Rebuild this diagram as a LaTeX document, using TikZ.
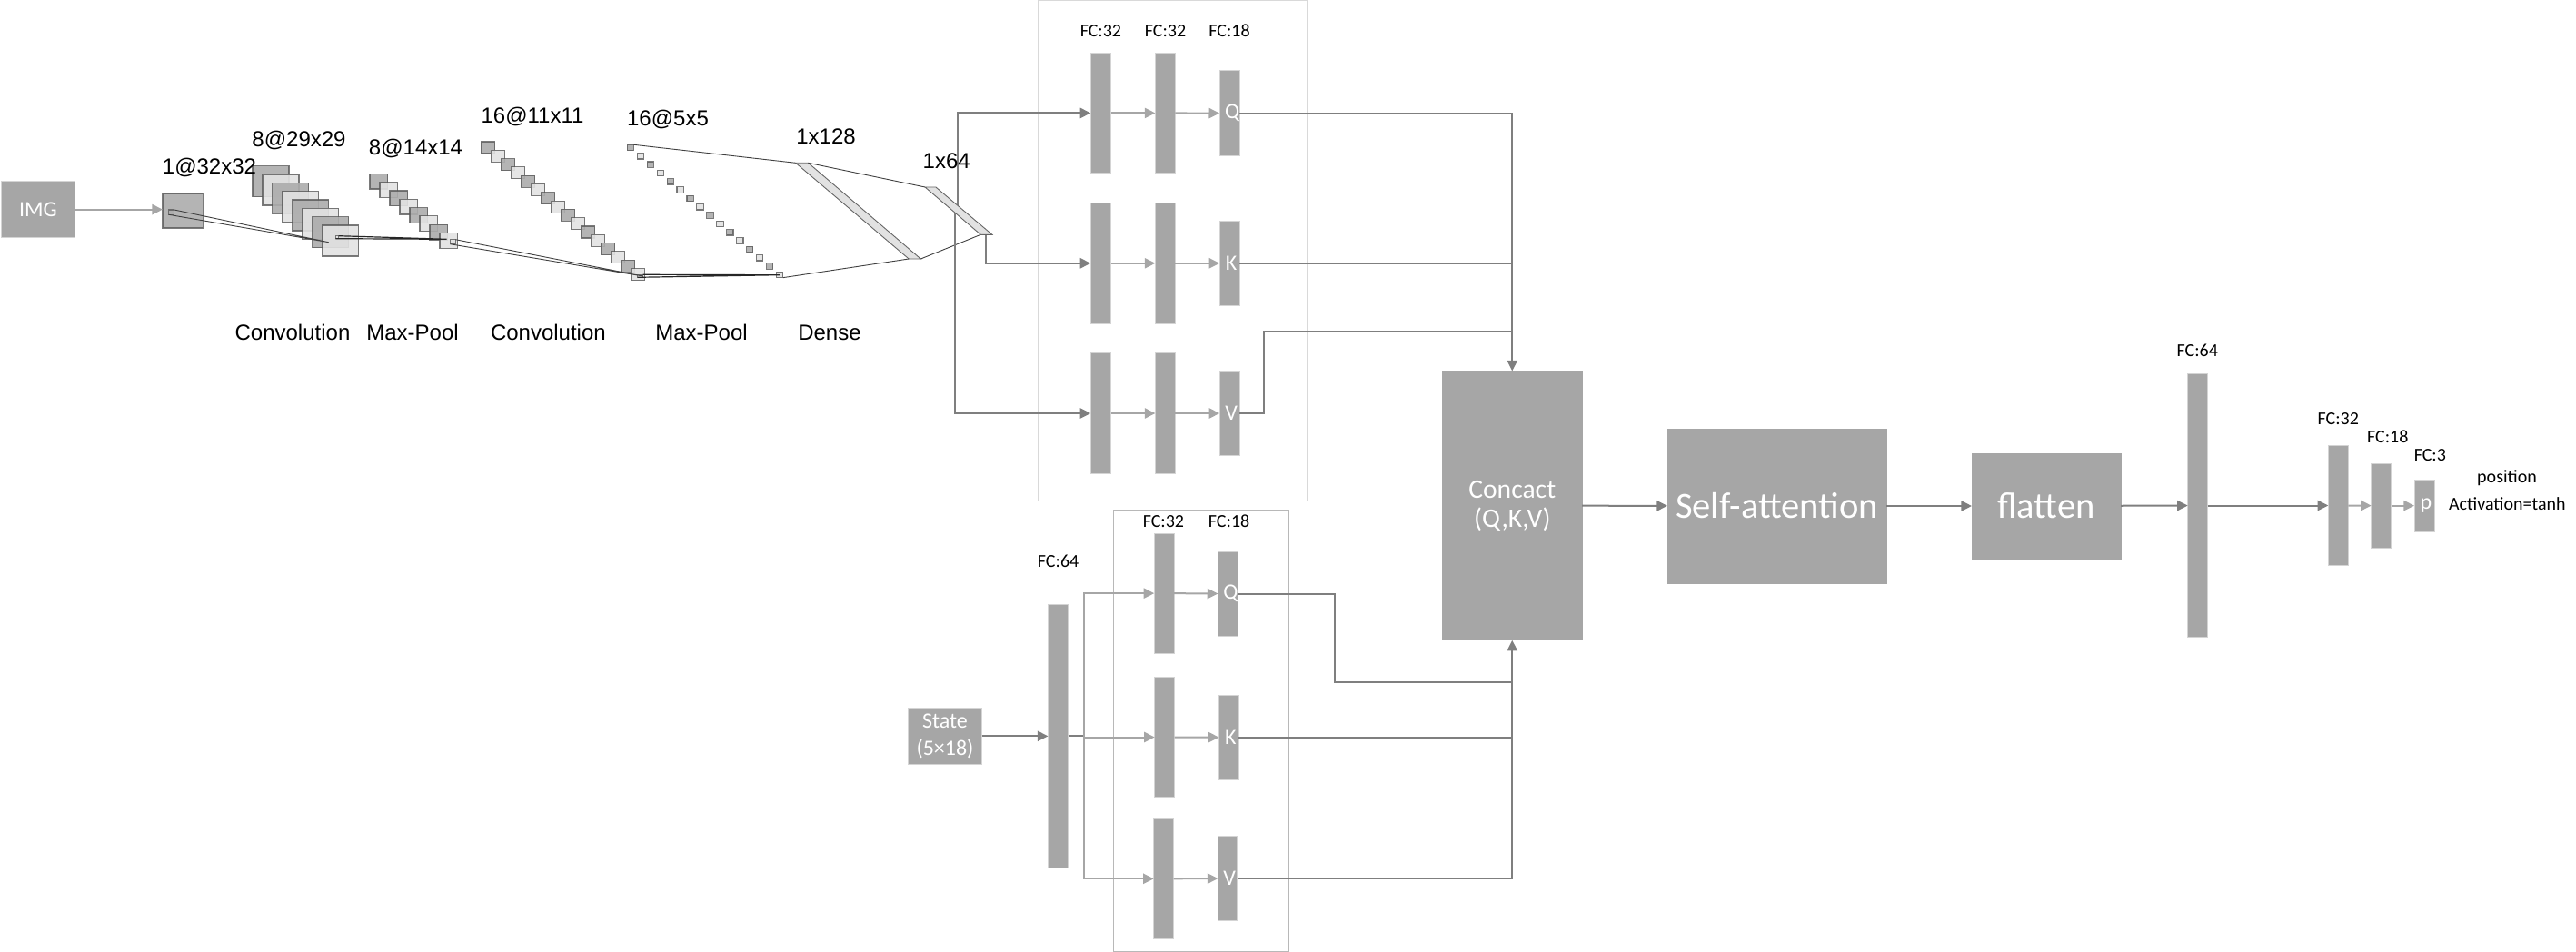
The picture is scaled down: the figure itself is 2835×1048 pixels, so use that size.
\documentclass[tikz,border=0pt]{standalone}
\usepackage{fontspec}
\setmainfont{Carlito}
\newfontfamily\arialf{Liberation Sans}
\usetikzlibrary{arrows.meta,calc}
\definecolor{barfill}{HTML}{A6A6A6}
\definecolor{barline}{HTML}{D4D4D4}
\definecolor{wireD}{HTML}{7F7F7F}
\definecolor{wireL}{HTML}{A6A6A6}
\definecolor{sqdark}{HTML}{ACACAC}
\definecolor{sqlight}{HTML}{E2E2E2}
\tikzset{
  x=0.5pt,y=-0.5pt,
  barbox/.style={draw=barline,line width=0.5pt,fill=barfill,inner sep=0pt,outer sep=0pt,text=white,align=center,font=\fontsize{12}{15}\selectfont},
  bigbox/.style={barbox,line width=0pt,draw=barfill},
  fclabel/.style={inner sep=0pt,anchor=base,text=black,font=\fontsize{10}{11}\selectfont},
  arlabel/.style={inner sep=0pt,anchor=base,text=black,font=\arialf\fontsize{12}{14}\selectfont},
  sqbase/.style={inner sep=0pt,outer sep=0pt,draw=black!65,draw opacity=.8,line width=.55pt,fill opacity=.9},
  sqD/.style={sqbase,fill=sqdark},
  sqL/.style={sqbase,fill=sqlight},
  wire/.style={draw=black!75,line width=.45pt},
  wireB/.style={draw=black!85,line width=.6pt},
  lineD/.style={draw=wireD,line width=1pt},
  lineL/.style={draw=wireL,line width=1pt},
  arrD/.style={lineD,-{Triangle[length=5.8pt,width=5.6pt,inset=0pt]}},
  arrL/.style={lineL,-{Triangle[length=5.8pt,width=5.6pt,inset=0pt]}},
  panelA/.style={draw=black!15,line width=.6pt},
  panelB/.style={draw=black!28,line width=.5pt},
}
% style, name, x0, y0, x1, y1, text
\newcommand{\boxat}[7]{%
  \node[#1,minimum width={0.5pt*(#5-#3)},minimum height={0.5pt*(#6-#4)}] (#2) at ({(#3+#5)/2},{(#4+#6)/2}) {#7};}
\begin{document}
\begin{tikzpicture}
\path[use as bounding box] (0,0) rectangle (2835,1048);
% panels
\node[panelA,inner sep=0pt,minimum width={0.5pt*295.4},minimum height={0.5pt*550.7}] (panelTop) at (1290.6,276) {};
\node[panelB,inner sep=0pt,minimum width={0.5pt*192.9},minimum height={0.5pt*486}] (panelLow) at (1322,804.3) {};
% input
\boxat{barbox}{img}{1.4}{200}{82.5}{261.3}{IMG}
\boxat{sqD}{inp}{179}{213.3}{223.3}{251}{}
\boxat{sqD}{inps}{185.7}{231}{191.7}{236.3}{}
% conv stack 1
\foreach \i in {0,...,7}{
  \pgfmathsetmacro\xa{278+10.95*\i}\pgfmathsetmacro\ya{182.7+9.33*\i}
  \pgfmathtruncatemacro\odd{mod(\i,2)}
  \ifnum\odd=0 \def\st{sqD}\else\def\st{sqL}\fi
  \node[\st,minimum width=20pt,minimum height=17pt] (ca\i) at ({\xa+20},{\ya+17}) {};
}
\boxat{sqL}{cas}{369.3}{259.7}{372.7}{262.7}{}
% pool stack 1
\foreach \i in {0,...,7}{
  \pgfmathsetmacro\xa{407+11*\i}\pgfmathsetmacro\ya{191.3+9.33*\i}
  \pgfmathtruncatemacro\odd{mod(\i,2)}
  \ifnum\odd=0 \def\st{sqD}\else\def\st{sqL}\fi
  \node[\st,minimum width=9.85pt,minimum height=8.35pt] (pa\i) at ({\xa+9.85},{\ya+8.35}) {};
}
\boxat{sqL}{pas}{495.3}{263.7}{501.3}{268.7}{}
% conv stack 2
\foreach \i in {0,...,15}{
  \pgfmathsetmacro\xa{529.3+11*\i}\pgfmathsetmacro\ya{156+9.3*\i}
  \pgfmathtruncatemacro\odd{mod(\i,2)}
  \ifnum\odd=0 \def\st{sqD}\else\def\st{sqL}\fi
  \node[\st,minimum width=7.7pt,minimum height=6.5pt] (cb\i) at ({\xa+7.7},{\ya+6.5}) {};
}
\boxat{sqL}{cbs}{701.7}{302.3}{707.6}{305.3}{}
% pool stack 2
\foreach \i in {0,...,15}{
  \pgfmathsetmacro\xa{690.2+10.96*\i}\pgfmathsetmacro\ya{159.3+9.33*\i}
  \pgfmathtruncatemacro\odd{mod(\i,2)}
  \ifnum\odd=0 \def\st{sqD}\else\def\st{sqL}\fi
  \node[\st,minimum width=3.6pt,minimum height=3.2pt] (pb\i) at ({\xa+3.6},{\ya+3.2}) {};
}
% dense layers
\coordinate (da) at (875.6,179.3);\coordinate (db) at (889.5,179.3);
\coordinate (dc) at (1013.3,285);\coordinate (dd) at (1000.2,285);
\coordinate (ea) at (1018,206);\coordinate (eb) at (1029.9,206);
\coordinate (ec) at (1091.9,258.3);\coordinate (ed) at (1079.3,258.3);
\filldraw[fill=sqlight,draw=black!60,line width=.45pt] (da)--(db)--(dc)--(dd)--cycle;
\coordinate (t1) at (1054.4,226.7);\coordinate (t2) at (1085.2,258.3);\coordinate (t3) at (1050.8,233);
% funnel wires
\coordinate (ta) at (361.7,266.7);\coordinate (tb) at (491.7,263.3);\coordinate (tc) at (707.6,304);\coordinate (td) at (857.8,302.7);
\draw[wire] (inps.north east)--(ta) (inps.south west)--(ta);
\draw[wireB] (cas.north east)--(tb) (cas.south west)--(tb);
\draw[wire] (pas.north east)--(tc) (pas.south west)--(tc);
\draw[wireB] (cbs.north east)--(td) (cbs.south west)--(td);
\draw[wire] (pb0.north east)--(da) (pb15.south east)--(dd);
\draw[wire] (db)--(ea) (dc)--(ed);
% upper FC block
\boxat{barbox}{a1}{1200.3}{58.2}{1222.5}{190.7}{}
\boxat{barbox}{b1}{1271.4}{58.2}{1293.3}{190.7}{}
\boxat{barbox}{q1}{1342.2}{77.9}{1364.1}{171.4}{\kern 3pt Q}
\boxat{barbox}{a2}{1200.3}{223.6}{1222.5}{356}{}
\boxat{barbox}{b2}{1271.4}{223.6}{1293.3}{356}{}
\boxat{barbox}{k1}{1342.2}{243.2}{1364.1}{336.4}{\kern 2pt K}
\boxat{barbox}{a3}{1200.3}{388.6}{1222.5}{521.4}{}
\boxat{barbox}{b3}{1271.4}{388.6}{1293.3}{521.4}{}
\boxat{barbox}{v1}{1342.2}{408.2}{1364.1}{501.8}{\kern 2pt V}
% lower FC block
\boxat{barbox}{state}{999.3}{779.7}{1080.7}{841}{State\\(5×18)}
\boxat{barbox}{fcs}{1153.4}{665.3}{1175.7}{955.3}{}
\boxat{barbox}{s1}{1270.2}{587}{1292}{719.3}{}
\boxat{barbox}{q2}{1340.5}{607}{1362.3}{700}{\kern 3pt Q}
\boxat{barbox}{s2}{1270.7}{745.3}{1292.5}{877.7}{}
\boxat{barbox}{k2}{1341.5}{765}{1363.3}{858.3}{\kern 2pt K}
\boxat{barbox}{s3}{1269.7}{901.3}{1291.5}{1033.3}{}
\boxat{barbox}{v2}{1340.5}{920.7}{1361.8}{1013.3}{\kern 2pt V}
% main blocks
\boxat{bigbox,font=\fontsize{14.8}{16}\selectfont}{cc}{1587.5}{408.4}{1741}{704.8}{Concact\\(Q,K,V)}
\boxat{bigbox,font=\fontsize{20.3}{24}\selectfont}{sa}{1835}{472}{2076}{642}{Self-attention}
\boxat{bigbox,font=\fontsize{20.3}{24}\selectfont}{fl}{2170}{499}{2334}{615}{flatten}
\boxat{barbox}{fa}{2407.7}{411.3}{2429.7}{701.7}{}
\boxat{barbox}{fb}{2562.3}{490.3}{2584.3}{622.7}{}
\boxat{barbox}{fc}{2609.7}{510}{2631.7}{603.3}{}
\boxat{barbox}{fd}{2657}{528.3}{2679}{585}{\kern 2pt p}
% connectors
\draw[arrL] (img.east) -- (img.east -| inp.west);
\draw[arrD] (t1) |- (a1.west);
\draw[arrD] (t2) |- (a2.west);
\draw[arrD] (t3) |- (a3.west);
\foreach \p/\q in {a1/b1,b1/q1,a2/b2,b2/k1,a3/b3,b3/v1,s1/q2,s2/k2,s3/v2}{\draw[arrL] (\p.east) -- (\q.west);}
\filldraw[fill=sqlight,draw=black!60,line width=.45pt] (ea)--(eb)--(ec)--(ed)--cycle;
\draw[arrD] (q1.east) -| (cc.north);
\draw[lineD] (k1.east) -- (k1.east -| cc.north);
\coordinate (vj) at (1390.5,365);
\draw[lineD] (v1.east) -| (vj) -- (vj -| cc.north);
\draw[arrD] (state.east) -- (state.east -| fcs.west);
\coordinate (branch) at (1193.2,810.3);
\draw[lineD] (fcs.east) -- (branch);
\draw[arrL] (branch) |- (s1.west);
\draw[arrL] (branch) |- (s2.west);
\draw[arrL] (branch) |- (s3.west);
\coordinate (qj) at (1469,751);
\draw[lineD] (q2.east) -| (qj) -- (qj -| cc.south);
\draw[lineD] (k2.east) -- (k2.east -| cc.south);
\draw[arrD] (v2.east) -| (cc.south);
\draw[arrD] (cc) -- (sa);
\draw[arrD] (sa) -- (fl);
\draw[arrD] (fl) -- (fa);
\draw[arrD] (fa) -- (fb);
\draw[arrL] (fb) -- (fc);
\draw[arrL] (fc) -- (fd);
% Arial labels (y = baseline)
\foreach \n/\x/\y/\t in {l1/230.5/191.5/1@32x32,l2/329/161.2/8@29x29,l3/457.5/170.5/8@14x14,l4/586/135.2/16@11x11,l5/735/138.5/16@5x5,l6/909/158.5/1x128,l7/1041.7/185.5/1x64,l8/322/374.2/Convolution,l9/454/374.2/Max-Pool,l10/603.4/374.2/Convolution,l11/772/374.2/Max-Pool,l12/913/374.2/Dense}{
  \node[arlabel] (\n) at (\x,\y) {\t};
}
% FC labels (y = baseline)
\foreach \n/\x/\y/\t in {f1/1211.4/41/FC:32,f2/1282.5/41/FC:32,f3/1353/41/FC:18,f4/1280.4/580.5/FC:32,f5/1352.6/580.5/FC:18,f6/1164.6/624/FC:64,f7/2418.3/392.7/FC:64,f8/2573.3/467.7/FC:32,f9/2627.7/487.7/FC:18,f10/2674.3/507.7/FC:3,f11/2759/531.7/position,f12/2759.3/561.7/Activation=tanh}{
  \node[fclabel] (\n) at (\x,\y) {\t};
}
\end{tikzpicture}
\end{document}
